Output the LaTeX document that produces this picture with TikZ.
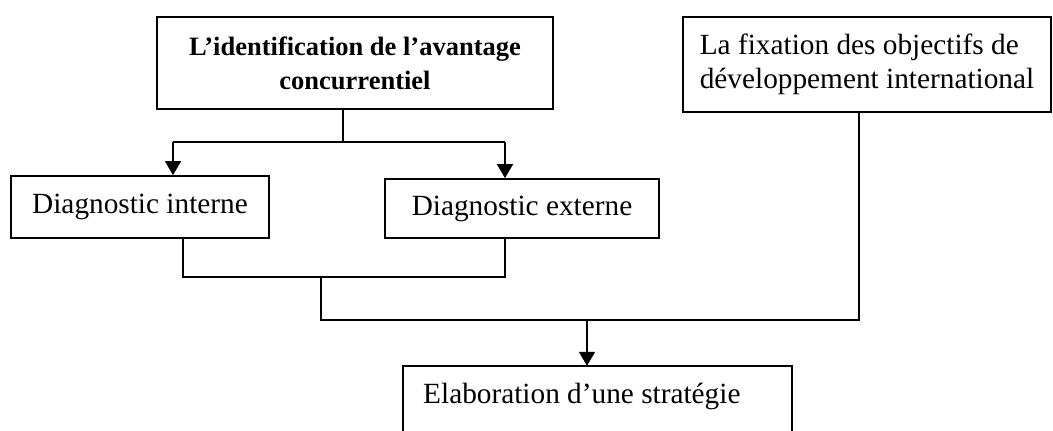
\documentclass[tikz,border=0pt]{standalone}
\usepackage{fontspec}
\setmainfont{Liberation Serif}
\usetikzlibrary{arrows.meta}
\begin{document}
\begin{tikzpicture}[x=1pt,y=-1pt,
  box/.style={draw,line width=1.8pt,rectangle,inner sep=3pt,font=\fontsize{29.3}{34}\selectfont},
  conn/.style={line width=1.8pt},
  arr/.style={line width=1.8pt,-{Triangle[length=14pt,width=16pt]}},
  txt/.style={inner sep=0pt,font=\fontsize{29.3}{34}\selectfont}]
\useasboundingbox (0,0) rectangle (1053,431);
\node[box,minimum width=396pt,minimum height=92pt,align=center,font=\bfseries\fontsize{26.5}{34}\selectfont] (top) at (355,63) {L’identification de l’avantage\\concurrentiel};
\node[box,minimum width=368pt,minimum height=95pt,align=left] (fix) at (867,64.5) {La fixation des objectifs de\\développement international};
\node[box,minimum width=258pt,minimum height=62pt] (int) at (140,207) {Diagnostic interne};
\node[box,minimum width=274pt,minimum height=59pt] (ext) at (522,208.5) {Diagnostic externe};
\node[rectangle,inner sep=0pt,minimum width=389pt,minimum height=65pt] (elab) at (597.5,398.5) {};
\draw[conn] (elab.south west) |- (elab.north east) -- (elab.south east);
\node[txt,anchor=base west] (elabtxt) at (423,403) {Elaboration d’une stratégie};
\coordinate (j1) at (343,142);
\coordinate (a1) at (173,142);
\coordinate (a2) at (505,142);
\coordinate (b1) at (183,277);
\coordinate (b2) at (505,277);
\coordinate (m) at (321,277);
\coordinate (m2) at (321,320);
\coordinate (f) at (859,320);
\coordinate (e) at (587,320);
\draw[conn] (j1 |- top.south) -- (j1);
\draw[conn] (a1) -- (a2);
\draw[arr] (a1) -- (a1 |- int.north);
\draw[arr] (a2) -- (a2 |- ext.north);
\draw[conn] (b1 |- int.south) -- (b1) -- (b2) -- (b2 |- ext.south);
\draw[conn] (m) -- (m2) -- (f) -- (f |- fix.south);
\draw[arr] (e) -- (e |- elab.north);
\end{tikzpicture}
\end{document}
